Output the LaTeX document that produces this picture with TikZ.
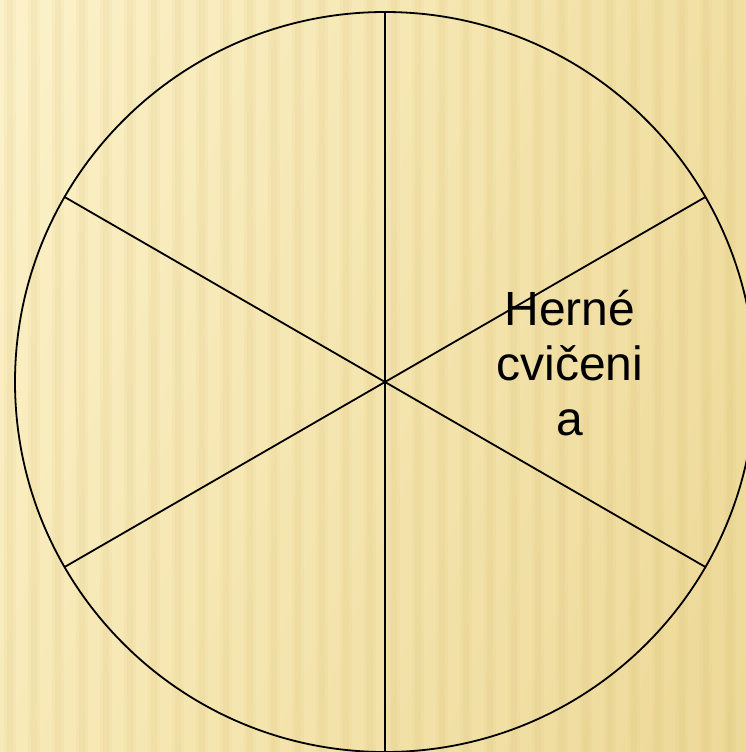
\documentclass[tikz,border=0pt]{standalone}
\usepackage{fontspec}
\setmainfont{Liberation Sans}
\usetikzlibrary{shadings}
\begin{document}
\begin{tikzpicture}[x=1pt,y=-1pt,
  wheelline/.style={line width=1.8pt, black},
  label/.style={align=center, font=\fontsize{48}{55}\selectfont, inner sep=0pt}]
\definecolor{bgTL}{RGB}{252,242,202}
\definecolor{bgTR}{RGB}{241,223,162}
\definecolor{bgBL}{RGB}{248,234,184}
\definecolor{bgBR}{RGB}{237,217,152}
\definecolor{stripe}{RGB}{205,175,95}
\useasboundingbox (0,0) rectangle (746,752);
\begin{scope}
\clip (0,0) rectangle (746,752);
\shade[upper left=bgTL, upper right=bgTR, lower left=bgBL, lower right=bgBR] (0,0) rectangle (746,752);
\foreach \i in {0,...,31} {
  \fill[stripe, opacity=0.07] ({\i*24+4},0) rectangle ({\i*24+16},752);
  \fill[stripe, opacity=0.07] ({\i*24+7},0) rectangle ({\i*24+13},752);
}
\coordinate (c) at (385,382);
\draw[wheelline] (c) circle[radius=370];
\coordinate (p90) at (385,12);
\coordinate (p270) at (385,752);
\coordinate (p30) at (705.4,197);
\coordinate (p150) at (64.6,197);
\coordinate (p210) at (64.6,567);
\coordinate (p330) at (705.4,567);
\draw[wheelline] (p90) -- (p270);
\draw[wheelline] (p150) -- (p330);
\draw[wheelline] (p30) -- (p210);
\node[label, anchor=base] (txt) at (570,435) {Herné\\cvičeni\\a};
\end{scope}
\end{tikzpicture}
\end{document}
